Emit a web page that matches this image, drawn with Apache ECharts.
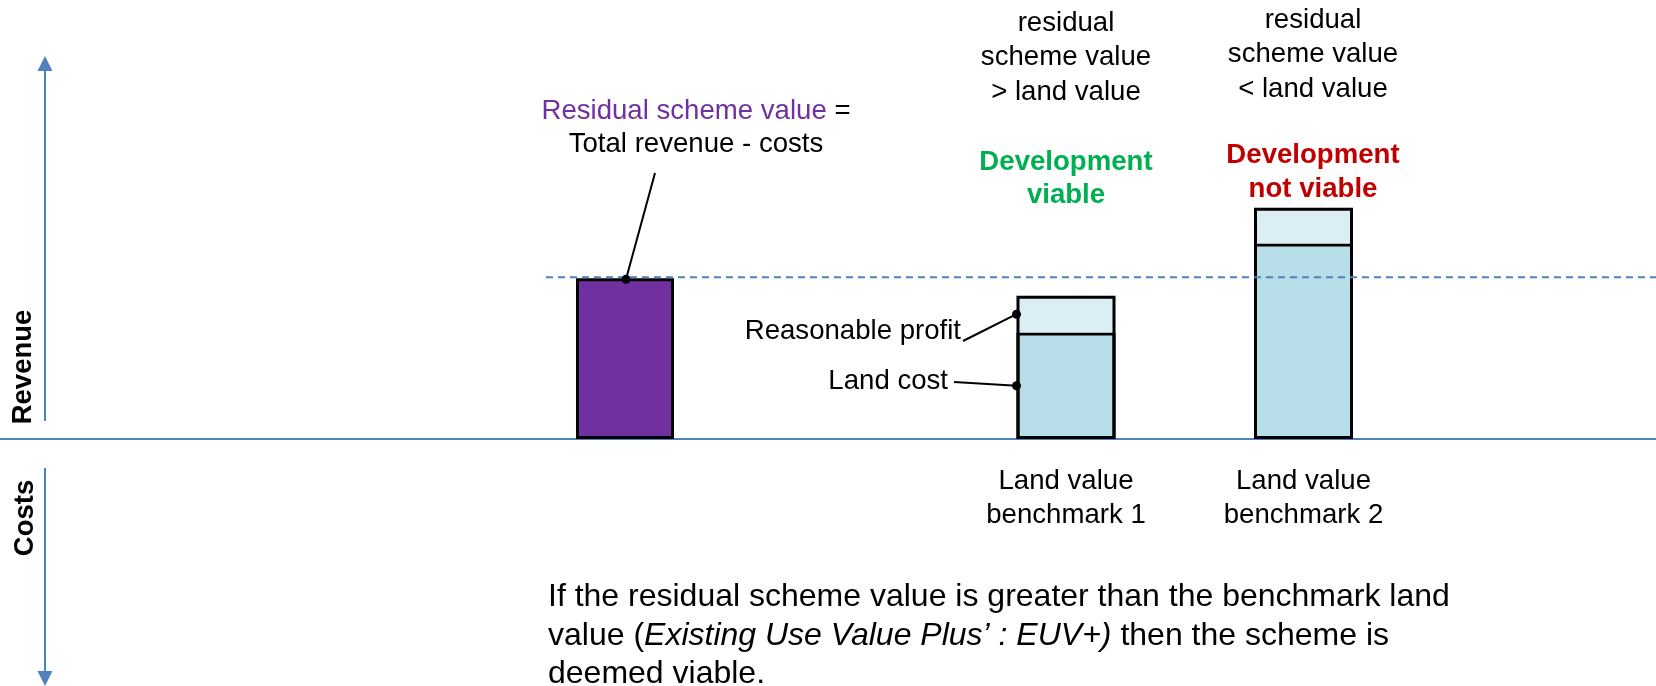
<!DOCTYPE html>
<html><head><meta charset="utf-8">
<script src="https://cdn.jsdelivr.net/npm/echarts@6/dist/echarts.min.js"></script>
<style>html,body{margin:0;padding:0;background:#fff}#c{width:1656px;height:686px}</style>
</head><body><div id="c"></div>
<script>
// ---- data ----
const residualCategories = ['Residual scheme value'];
const residualValues = [4.02];
const benchmarkCategories = ['Land value\nbenchmark 1', 'Land value\nbenchmark 2'];
const landCostValues = [2.66, 4.89];
const profitValues = [0.92, 0.89];
const valueRange = [0, 10];

// ---- chart ----
const FONT = '"Liberation Sans", Arial, Helvetica, sans-serif';
const AXIS_BLUE = '#4F81BD';
const chart = echarts.init(document.getElementById('c'), null, { renderer: 'canvas' });
const benchmarkTotals = landCostValues.map((v, i) => v + profitValues[i]);

chart.setOption({
  animation: false,
  backgroundColor: '#fff',
  grid: [
    { left: 526, width: 198, top: 39, height: 400 },
    { left: 947.25, width: 475, top: 39, height: 400 }
  ],
  xAxis: [
    { type: 'category', gridIndex: 0, data: residualCategories,
      axisLine: { show: false }, axisTick: { show: false }, axisLabel: { show: false } },
    { type: 'category', gridIndex: 1, data: benchmarkCategories,
      axisLine: { show: false }, axisTick: { show: false },
      axisLabel: { fontSize: 27.6, lineHeight: 34, color: '#000', fontFamily: FONT, margin: 25 } }
  ],
  yAxis: [
    { type: 'value', gridIndex: 0, min: valueRange[0], max: valueRange[1], show: false },
    { type: 'value', gridIndex: 1, min: valueRange[0], max: valueRange[1], show: false }
  ],
  series: [
    { name: 'Residual scheme value', type: 'bar', xAxisIndex: 0, yAxisIndex: 0,
      data: residualValues, barWidth: 98, z: 3,
      itemStyle: { color: '#7030A0', borderColor: '#000', borderWidth: 3 } },
    { name: 'Land cost', type: 'bar', xAxisIndex: 1, yAxisIndex: 1, stack: 'bench',
      data: landCostValues, barWidth: 99, barGap: '-100%', z: 3,
      itemStyle: { color: '#B7DEE8', borderColor: '#000', borderWidth: 3 } },
    { name: 'Reasonable profit', type: 'bar', xAxisIndex: 1, yAxisIndex: 1, stack: 'bench',
      data: profitValues, barWidth: 99, barGap: '-100%', z: 3,
      itemStyle: { color: '#DAEEF3', borderWidth: 0 } },
    { name: 'outline', type: 'bar', xAxisIndex: 1, yAxisIndex: 1, silent: true,
      data: benchmarkTotals, barWidth: 99, barGap: '-100%', z: 4,
      itemStyle: { color: 'rgba(0,0,0,0)', borderColor: '#000', borderWidth: 3 } }
  ]
});

// ---- annotations positioned from the library's scales ----
const px = (gi, xi, v) => chart.convertToPixel({ xAxisIndex: gi, yAxisIndex: gi }, [xi, v]);
const pRes = px(0, 0, residualValues[0]);
const base = px(1, 0, 0);
const b1 = px(1, 0, 0);
const b2 = px(1, 1, 0);
const b1Land = px(1, 0, landCostValues[0] / 2);
const b1Profit = px(1, 0, landCostValues[0] + profitValues[0] / 2);
const halfBar = 49.5;
const W = chart.getWidth(), H = chart.getHeight();

function text(x, y, t, o) {
  return { type: 'text', x: x, y: y, z: 20,
    style: Object.assign({ text: t, fill: '#000', fontSize: 27.6, fontFamily: FONT,
      align: 'center', verticalAlign: 'top' }, o || {}) };
}
function line(x1, y1, x2, y2, o) {
  return { type: 'line', z: 20, shape: { x1, y1, x2, y2 },
    style: Object.assign({ stroke: '#000', lineWidth: 2 }, o || {}) };
}
function dot(x, y) {
  return { type: 'circle', z: 21, shape: { cx: x, cy: y, r: 4.5 }, style: { fill: '#000' } };
}

const ax = 45;
const elements = [
  { type: 'line', z: 1, shape: { x1: 0, y1: base[1], x2: W, y2: base[1] },
    style: { stroke: AXIS_BLUE, lineWidth: 2 } },
  line(ax, base[1] - 18, ax, 68, { stroke: AXIS_BLUE, lineWidth: 2 }),
  { type: 'polygon', z: 20, shape: { points: [[ax, 56], [ax - 7.5, 71], [ax + 7.5, 71]] }, style: { fill: AXIS_BLUE } },
  line(ax, base[1] + 29, ax, H - 14, { stroke: AXIS_BLUE, lineWidth: 2 }),
  { type: 'polygon', z: 20, shape: { points: [[ax, H], [ax - 7.5, H - 15], [ax + 7.5, H - 15]] }, style: { fill: AXIS_BLUE } },
  { type: 'text', x: 23, y: 367, rotation: Math.PI / 2, z: 20,
    style: { text: 'Revenue', fill: '#000', fontSize: 27.5, fontWeight: 'bold', fontFamily: FONT, align: 'center', verticalAlign: 'middle' } },
  { type: 'text', x: 25, y: 518, rotation: Math.PI / 2, z: 20,
    style: { text: 'Costs', fill: '#000', fontSize: 27.5, fontWeight: 'bold', fontFamily: FONT, align: 'center', verticalAlign: 'middle' } },
  line(pRes[0] - 79, pRes[1] - 1, W, pRes[1] - 1, { stroke: AXIS_BLUE, lineWidth: 2, lineDash: [7, 5] }),
  text(696, 94.5, '{p|Residual scheme value} =\nTotal revenue - costs',
    { lineHeight: 33, rich: { p: { fill: '#7030A0', fontSize: 27.6, fontFamily: FONT, lineHeight: 33 } } }),
  line(pRes[0] + 30, 173, pRes[0] + 1, pRes[1] + 1),
  dot(pRes[0] + 1, pRes[1] + 1),
  text(b1[0], 6, 'residual\nscheme value\n> land value', { lineHeight: 34.5 }),
  text(b2[0] + 9.5, 3, 'residual\nscheme value\n< land value', { lineHeight: 34.5 }),
  text(b1[0], 146, 'Development\nviable', { lineHeight: 33, fontWeight: 'bold', fill: '#00B050' }),
  text(b2[0] + 9.5, 138, 'Development\nnot viable', { lineHeight: 34, fontWeight: 'bold', fill: '#C00000' }),
  text(961, 331, 'Reasonable profit', { align: 'right', verticalAlign: 'middle' }),
  line(963, 341, b1Profit[0] - halfBar, b1Profit[1]),
  dot(b1Profit[0] - halfBar, b1Profit[1]),
  text(948, 381, 'Land cost', { align: 'right', verticalAlign: 'middle' }),
  line(954, 382, b1Land[0] - halfBar, b1Land[1]),
  dot(b1Land[0] - halfBar, b1Land[1]),
  text(548, 578, 'If the residual scheme value is greater than the benchmark land\nvalue ({i|Existing Use Value Plus\u2019 : EUV+)} then the scheme is\ndeemed viable.',
    { align: 'left', fontSize: 32, lineHeight: 38.5,
      rich: { i: { fontStyle: 'italic', fontSize: 32, fontFamily: FONT, fill: '#000', lineHeight: 38.5 } } })
];

chart.setOption({ graphic: { elements: elements } });
</script>
</body></html>
